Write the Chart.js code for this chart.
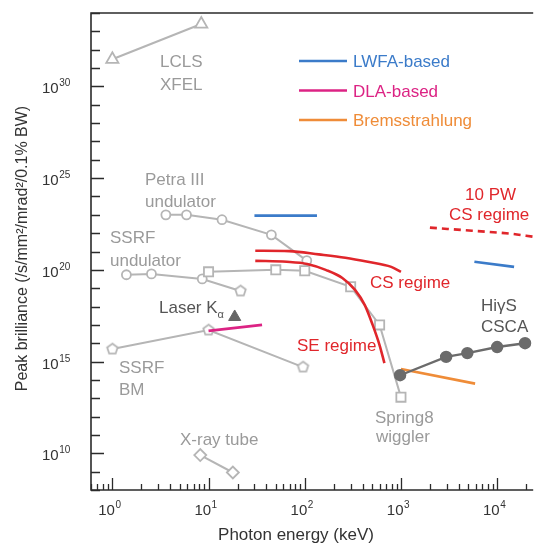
<!DOCTYPE html>
<html>
<head>
<meta charset="utf-8">
<script src="https://cdn.jsdelivr.net/npm/chart.js@4.4.1/dist/chart.umd.min.js"></script>
<style>
  body { margin: 0; background: #fff; }
</style>
</head>
<body>
<canvas id="brillianceChart" width="542" height="544"></canvas>
<script>
// photon energy in keV, peak brilliance in /s/mm2/mrad2/0.1% BW
const lclsX = [1, 8.4];
const lclsY = [3e31, 2.5e33];
const petraX = [3.6, 5.9, 13.8, 45, 105];
const petraY = [1e23, 1e23, 5.4e22, 8.1e21, 3.2e20];
const ssrfUndX = [1.4, 2.55, 8.6, 21.5];
const ssrfUndY = [5.4e19, 6e19, 3.2e19, 7e18];
const spring8X = [10, 50, 100, 300, 600, 1000];
const spring8Y = [7.8e19, 1e20, 8.9e19, 1.2e19, 1e17, 1.15e13];
const ssrfBmX = [1, 10, 96];
const ssrfBmY = [4.8e15, 5.2e16, 5e14];
const xrayTubeX = [8.2, 17.9];
const xrayTubeY = [8e9, 9e8];
const laserKaX = [18.7];
const laserKaY = [2.7e17];
const higsX = [980, 2950, 4900, 10000, 19500];
const higsY = [1.8e14, 1.8e15, 2.9e15, 6.2e15, 1e16];
const bremsX = [1000, 5900];
const bremsY = [3.9e14, 6.3e13];
const dlaX = [10, 36];
const dlaY = [4.7e16, 1e17];
const lwfaLowX = [30, 134];
const lwfaLowY = [9e22, 9e22];
const lwfaHighX = [5800, 15000];
const lwfaHighY = [2.75e20, 1.45e20];
const pw10X = [2000, 5500, 14000, 24000];
const pw10Y = [2e22, 1.35e22, 9.3e21, 6.3e21];
const csX = [30.6, 69, 140, 264, 452, 793, 1000];
const csY = [1.1e21, 1.05e21, 7e20, 4.6e20, 2.75e20, 1.45e20, 7.8e19];
const seX = [30.6, 65, 106, 165, 246, 333, 421, 508, 599, 673];
const seY = [3.1e20, 2.75e20, 2.1e20, 1e20, 3.6e19, 8.1e18, 1.2e18, 1e17, 8e15, 8.3e14];

const xTickExps = [0, 1, 2, 3, 4];
const yTickExps = [10, 15, 20, 25, 30];

const GRAY = "#b5b5b5";
const DARK = "#6b6b6b";
const RED = "#e0262b";
const BLUE = "#3b7bc9";
const MAGENTA = "#dc2384";
const ORANGE = "#ef8c38";
const FONT = '"Liberation Sans", Arial, sans-serif';

function pts(xs, ys){
  return xs.map(function(x, i){ return { x: x, y: ys[i] }; });
}

function pentagon(r, color){
  const c = document.createElement("canvas");
  const s = 2 * r + 4;
  c.width = s; c.height = s;
  const g = c.getContext("2d");
  g.beginPath();
  for (let i = 0; i < 5; i++) {
    const a = -Math.PI / 2 + i * 2 * Math.PI / 5;
    const px = s / 2 + r * Math.cos(a), py = s / 2 + r * Math.sin(a);
    if (i === 0) g.moveTo(px, py); else g.lineTo(px, py);
  }
  g.closePath();
  g.fillStyle = "#fff";
  g.fill();
  g.lineWidth = 1.8;
  g.strokeStyle = color;
  g.stroke();
  return c;
}

function grayLine(xs, ys, style, radius){
  return {
    data: pts(xs, ys),
    borderColor: GRAY,
    borderWidth: 2,
    pointStyle: style,
    pointRadius: radius,
    pointBackgroundColor: "#fff",
    pointBorderColor: GRAY,
    pointBorderWidth: 1.8,
    tension: 0
  };
}

function plainLine(xs, ys, color, extra){
  return Object.assign({
    data: pts(xs, ys),
    borderColor: color,
    borderWidth: 2.6,
    pointRadius: 0,
    tension: 0
  }, extra || {});
}

// text put on top of the plot (pixel anchors, left aligned, baseline)
const notes = [
  ["LCLS", 160, 67, "#9a9a9a"], ["XFEL", 160, 90, "#9a9a9a"],
  ["Petra III", 145, 185, "#9a9a9a"], ["undulator", 145, 207, "#9a9a9a"],
  ["SSRF", 110, 243, "#9a9a9a"], ["undulator", 110, 266, "#9a9a9a"],
  ["SSRF", 119, 373, "#9a9a9a"], ["BM", 119, 395, "#9a9a9a"],
  ["X-ray tube", 180, 445, "#9a9a9a"],
  ["Spring8", 375, 423, "#9a9a9a"], ["wiggler", 376, 442, "#9a9a9a"],
  ["HiγS", 481, 311, "#555"], ["CSCA", 481, 332, "#555"],
  ["CS regime", 370, 288, RED], ["SE regime", 297, 351, RED],
  ["10 PW", 465, 200, RED], ["CS regime", 449, 220, RED]
];
const legendItems = [
  ["LWFA-based", BLUE], ["DLA-based", MAGENTA], ["Bremsstrahlung", ORANGE]
];

function pow10(ctx, x, y, exp, align){
  ctx.font = "15px " + FONT;
  const w1 = ctx.measureText("10").width;
  ctx.font = "10px " + FONT;
  const w2 = ctx.measureText(String(exp)).width;
  let x0 = x;
  if (align === "center") x0 = x - (w1 + w2) / 2;
  ctx.font = "15px " + FONT;
  ctx.fillText("10", x0, y);
  ctx.font = "10px " + FONT;
  ctx.fillText(String(exp), x0 + w1 + 0.5, y - 7);
}

const decorations = {
  id: "decorations",
  afterDraw(chart){
    const ctx = chart.ctx, a = chart.chartArea;
    const xs = chart.scales.x, ys = chart.scales.y;
    ctx.save();
    ctx.strokeStyle = "#2b2b2b";
    ctx.lineWidth = 1.6;
    ctx.beginPath();
    ctx.moveTo(a.right, a.top); ctx.lineTo(a.left, a.top);
    ctx.lineTo(a.left, a.bottom); ctx.lineTo(a.right, a.bottom);
    ctx.stroke();

    ctx.beginPath();
    for (let e = 8; e <= 34; e++) {
      const py = Math.round(ys.getPixelForValue(Math.pow(10, e))) + 0.5;
      ctx.moveTo(a.left, py);
      ctx.lineTo(a.left + (e % 5 === 0 ? 13 : 9), py);
    }
    for (let e = -1; e <= 4; e++) {
      for (let m = 1; m < 10; m++) {
        const v = m * Math.pow(10, e);
        if (v < xs.min || v > xs.max) continue;
        const px = Math.round(xs.getPixelForValue(v)) + 0.5;
        ctx.moveTo(px, a.bottom);
        ctx.lineTo(px, a.bottom - (m === 1 ? 12 : 6));
      }
    }
    ctx.lineWidth = 1.3;
    ctx.stroke();

    ctx.fillStyle = "#333";
    ctx.textBaseline = "alphabetic";
    ctx.textAlign = "left";
    yTickExps.forEach(function(e){
      const py = ys.getPixelForValue(Math.pow(10, e));
      pow10(ctx, 42, py + 7, e, "left");
    });
    xTickExps.forEach(function(e){
      const px = xs.getPixelForValue(Math.pow(10, e));
      pow10(ctx, px - 3, a.bottom + 25, e, "center");
    });

    ctx.font = "17px " + FONT;
    ctx.textAlign = "center";
    ctx.fillText("Photon energy (keV)", 296, 540);
    ctx.save();
    ctx.translate(27, (a.top + a.bottom) / 2 - 3);
    ctx.rotate(-Math.PI / 2);
    ctx.font = "16px " + FONT;
    ctx.fillText("Peak brilliance (/s/mm²/mrad²/0.1% BW)", 0, 0);
    ctx.restore();

    ctx.textAlign = "left";
    notes.forEach(function(n){
      ctx.font = "17px " + FONT;
      ctx.fillStyle = n[3];
      ctx.fillText(n[0], n[1], n[2]);
    });
    ctx.fillStyle = "#555";
    ctx.font = "17px " + FONT;
    ctx.fillText("Laser K", 159, 313);
    const kw = ctx.measureText("Laser K").width;
    ctx.font = "11px " + FONT;
    ctx.fillText("α", 159 + kw, 318);

    legendItems.forEach(function(item, i){
      const y = 61 + i * 29.5;
      ctx.strokeStyle = item[1];
      ctx.lineWidth = 2.6;
      ctx.beginPath();
      ctx.moveTo(299, y); ctx.lineTo(347, y);
      ctx.stroke();
      ctx.fillStyle = item[1];
      ctx.font = "17px " + FONT;
      ctx.fillText(item[0], 353, y + 6);
    });
    ctx.restore();
  }
};

function createChart(){
  const ctx = document.getElementById("brillianceChart");
  new Chart(ctx, {
    type: "line",
    data: {
      datasets: [
        {
          data: pts(higsX, higsY),
          borderColor: DARK,
          borderWidth: 2.4,
          pointRadius: 5,
          pointBackgroundColor: DARK,
          pointBorderColor: DARK,
          tension: 0
        },
        plainLine(bremsX, bremsY, ORANGE),
        plainLine(dlaX, dlaY, MAGENTA),
        plainLine(lwfaLowX, lwfaLowY, BLUE),
        plainLine(lwfaHighX, lwfaHighY, BLUE),
        plainLine(pw10X, pw10Y, RED, { borderDash: [7, 5], cubicInterpolationMode: "monotone" }),
        plainLine(csX, csY, RED, { cubicInterpolationMode: "monotone" }),
        plainLine(seX, seY, RED, { cubicInterpolationMode: "monotone" }),
        {
          data: pts(laserKaX, laserKaY),
          showLine: false,
          pointStyle: "triangle",
          pointRadius: 7,
          pointBackgroundColor: "#666",
          pointBorderColor: "#666"
        },
        grayLine(spring8X, spring8Y, "rect", 6.5),
        grayLine(petraX, petraY, "circle", 4.5),
        Object.assign(grayLine(ssrfUndX, ssrfUndY, "circle", 4.5), {
          pointStyle: ["circle", "circle", "circle", pentagon(5.5, GRAY)]
        }),
        grayLine(ssrfBmX, ssrfBmY, pentagon(5.5, GRAY), 5.5),
        grayLine(lclsX, lclsY, "triangle", 7),
        grayLine(xrayTubeX, xrayTubeY, "rectRot", 6)
      ]
    },
    options: {
      responsive: false,
      animation: false,
      layout: { padding: { top: 13, left: 0, right: 0, bottom: 0 } },
      plugins: { legend: { display: false }, tooltip: { enabled: false } },
      scales: {
        x: {
          type: "logarithmic",
          min: 0.6115,
          max: 23700,
          ticks: { display: false },
          grid: { display: false },
          border: { display: false },
          afterFit: function(s){ s.height = 54; }
        },
        y: {
          type: "logarithmic",
          min: 1e8,
          max: 1e34,
          ticks: { display: false },
          grid: { display: false },
          border: { display: false },
          afterFit: function(s){ s.width = 91; }
        }
      }
    },
    plugins: [decorations]
  });
}

window.addEventListener("load", createChart);
</script>
</body>
</html>
